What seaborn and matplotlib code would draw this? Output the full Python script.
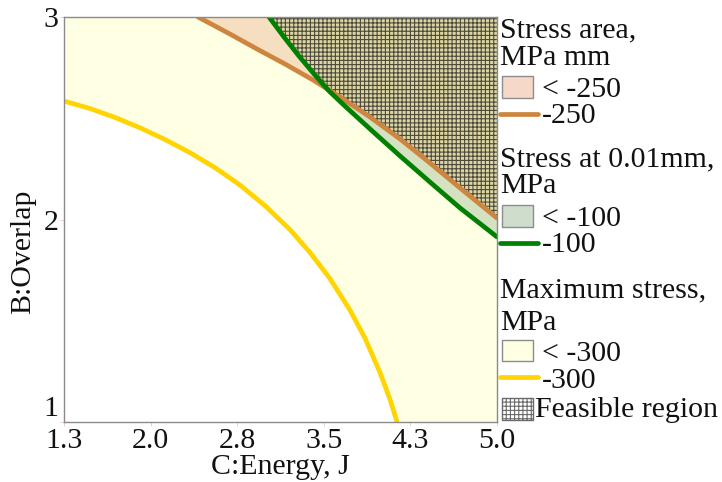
import numpy as np
import seaborn as sns
import matplotlib
matplotlib.use("Agg")
import matplotlib.pyplot as plt
from matplotlib.patches import Rectangle
from matplotlib.lines import Line2D

# Contour: maximum stress = -300 MPa  (C:Energy vs B:Overlap)
max_stress_x = [1.300, 1.522, 1.736, 1.949, 2.163, 2.377, 2.590, 2.804, 3.018,
                3.231, 3.402, 3.573, 3.744, 3.872, 4.000, 4.086, 4.146]
max_stress_y = [2.585, 2.548, 2.504, 2.453, 2.395, 2.330, 2.256, 2.170, 2.068,
                1.950, 1.837, 1.708, 1.552, 1.414, 1.245, 1.111, 1.000]

# Contour: stress area = -250 MPa mm
area_x = [2.445, 2.718, 2.949, 3.188, 3.428, 3.659, 3.915, 4.171, 4.427, 4.684, 5.000]
area_y = [3.000, 2.916, 2.842, 2.768, 2.689, 2.605, 2.506, 2.398, 2.279, 2.156, 2.007]

# Contour: stress at 0.01 mm = -100 MPa
surf_x = [3.052, 3.180, 3.308, 3.436, 3.564, 3.701, 3.915, 4.171, 4.427, 4.684, 5.000]
surf_y = [3.000, 2.901, 2.807, 2.719, 2.635, 2.560, 2.447, 2.314, 2.185, 2.057, 1.914]

energy_ticks = [1.3, 2.04, 2.78, 3.52, 4.26, 5.0]
energy_labels = ["1.3", "2.0", "2.8", "3.5", "4.3", "5.0"]
overlap_ticks = [1, 2, 3]
overlap_labels = ["1", "2", "3"]

X_MIN, X_MAX = 1.3, 5.0
Y_MIN, Y_MAX = 1.0, 3.0

YELLOW_FILL = "#FFFFE4"
ORANGE_FILL = "#F6DFC0"
GREEN_FILL = "#D5E2C2"
FEAS_FACE = "#DCD6A4"
FEAS_HATCH = "#4d4a3c"
YELLOW_LINE = "#FFD400"
ORANGE_LINE = "#CD853F"
GREEN_LINE = "#008000"

sns.set_theme(style="white")
SERIF = ["Liberation Serif", "DejaVu Serif"]
plt.rcParams["font.family"] = SERIF
plt.rcParams["hatch.linewidth"] = 0.8
FS = 21.5

W, H = 722, 482
fig = plt.figure(figsize=(W / 100, H / 100), dpi=100)
ax = fig.add_axes([64 / W, 60 / H, 433 / W, 405 / H])

# shaded constraint regions
ax.fill(np.r_[max_stress_x, X_MAX, X_MAX, X_MIN],
        np.r_[max_stress_y, Y_MIN, Y_MAX, Y_MAX], color=YELLOW_FILL, lw=0)
ax.fill(np.r_[area_x, X_MAX], np.r_[area_y, Y_MAX], color=ORANGE_FILL, lw=0)
ax.fill(np.r_[surf_x, X_MAX], np.r_[surf_y, Y_MAX], color=GREEN_FILL, lw=0)

# feasible region: above both the stress-area and surface-stress contours
grid = np.linspace(X_MIN, X_MAX, 1200)
upper = np.maximum(np.interp(grid, area_x, area_y, left=Y_MAX),
                   np.interp(grid, surf_x, surf_y, left=Y_MAX))
ax.fill_between(grid, upper, Y_MAX, facecolor=FEAS_FACE, edgecolor=FEAS_HATCH,
                hatch="++++", linewidth=0)

# contour lines
for xs, ys, col in [(max_stress_x, max_stress_y, YELLOW_LINE),
                    (area_x, area_y, ORANGE_LINE),
                    (surf_x, surf_y, GREEN_LINE)]:
    sns.lineplot(x=xs, y=ys, color=col, lw=3.4, ax=ax, sort=False,
                 estimator=None, legend=False)

ax.set_xlim(X_MIN, X_MAX)
ax.set_ylim(Y_MIN, Y_MAX)
ax.set_xticks(energy_ticks, energy_labels, fontsize=FS, family=SERIF)
ax.set_yticks(overlap_ticks, overlap_labels, fontsize=FS, family=SERIF)
ax.tick_params(axis="both", length=3, width=0.6, color="#f2c4c4", pad=1,
               bottom=True, left=True, labelcolor="#111111")
ax.get_yticklabels()[0].set_verticalalignment("bottom")
for s in ax.spines.values():
    s.set_color("#8a8a8a")
    s.set_linewidth(1.0)

ax.set_xlabel("C:Energy, J", fontsize=FS, color="#111111", family=SERIF)
ax.set_ylabel("B:Overlap", fontsize=FS, color="#111111", family=SERIF)
ax.xaxis.set_label_coords(0.5, -0.08)
ax.yaxis.set_label_coords(-0.064, 0.42)


# legend, laid out in pixel coordinates on the figure
def fx(px):
    return px / W


def fy(py):
    return 1 - py / H


def text(px, py, s):
    fig.text(fx(px), fy(py), s, fontsize=FS, ha="left", va="baseline",
             color="#111111", family=SERIF)


def box(py0, py1, face, hatch=None, edge="#8c8c8c"):
    fig.add_artist(Rectangle((fx(502), fy(py1)), fx(533) - fx(502),
                             fy(py0) - fy(py1), transform=fig.transFigure,
                             facecolor=face, edgecolor=edge, lw=1.0,
                             hatch=hatch))


def line(py, col):
    fig.add_artist(Line2D([fx(500), fx(538)], [fy(py), fy(py)],
                          transform=fig.transFigure, color=col, lw=3.4))


text(500, 37, "Stress area,")
text(500, 65, "MPa mm")
box(76, 98, "#F5D8C8")
text(542, 97, "< -250")
line(114, ORANGE_LINE)
text(542, 123, "-250")

text(500, 166, "Stress at 0.01mm,")
text(500, 193, "MPa")
box(205, 227, "#CFDDCD")
text(542, 226, "< -100")
line(243, GREEN_LINE)
text(542, 252, "-100")

text(500, 297, "Maximum stress,")
text(500, 330, "MPa")
box(340, 361, YELLOW_FILL)
text(542, 361, "< -300")
line(377, YELLOW_LINE)
text(542, 388, "-300")

box(398, 420, "white", hatch="++++", edge="#6a6a6a")
text(535, 417, "Feasible region")

fig.savefig("out.png", dpi=100)
